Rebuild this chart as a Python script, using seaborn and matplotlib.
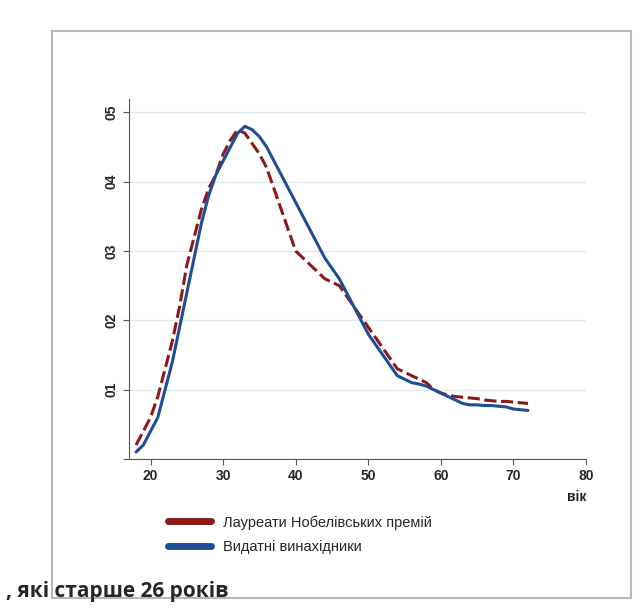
import matplotlib
matplotlib.use("Agg")
import matplotlib.pyplot as plt
import seaborn as sns
import pandas as pd
from matplotlib.patches import Rectangle

# вік (age) and density estimates
ages = [18, 19, 20, 21, 22, 23, 24, 25, 26, 27, 28, 29, 30, 31, 32, 33, 34, 35,
        36, 37, 38, 39, 40, 41, 42, 43, 44, 45, 46, 47, 48, 49, 50, 51, 52, 53,
        54, 55, 56, 57, 58, 59, 60, 61, 62, 63, 64, 65, 66, 67, 68, 69, 70, 71, 72]
nobel = [0.002, 0.004, 0.006, 0.009, 0.013, 0.017, 0.022, 0.028, 0.032, 0.036,
         0.039, 0.041, 0.044, 0.046, 0.0475, 0.047, 0.0455, 0.044, 0.042, 0.039,
         0.036, 0.033, 0.030, 0.029, 0.028, 0.027, 0.026, 0.0255, 0.025, 0.0235,
         0.022, 0.0205, 0.019, 0.0175, 0.016, 0.0145, 0.013, 0.0125, 0.012, 0.0115,
         0.011, 0.010, 0.0095, 0.0092, 0.009, 0.0089, 0.0088, 0.0087, 0.0085,
         0.0084, 0.0083, 0.0083, 0.0082, 0.0081, 0.008]
inventors = [0.001, 0.002, 0.004, 0.006, 0.010, 0.014, 0.019, 0.024, 0.029, 0.034,
             0.038, 0.041, 0.043, 0.045, 0.047, 0.048, 0.0475, 0.0465, 0.045, 0.043,
             0.041, 0.039, 0.037, 0.035, 0.033, 0.031, 0.029, 0.0275, 0.026, 0.024,
             0.022, 0.020, 0.018, 0.0165, 0.015, 0.0135, 0.012, 0.0115, 0.011, 0.0108,
             0.0105, 0.010, 0.0095, 0.009, 0.0085, 0.008, 0.0078, 0.0078, 0.0077,
             0.0077, 0.0076, 0.0075, 0.0072, 0.0071, 0.0070]
series_names = ["Лауреати Нобелівських премій", "Видатні винахідники"]
x_ticks = [20, 30, 40, 50, 60, 70, 80]
y_ticks = [0.01, 0.02, 0.03, 0.04, 0.05]
y_labels = ["01", "02", "03", "04", "05"]

df = pd.DataFrame({
    "вік": ages * 2,
    "density": nobel + inventors,
    "group": [series_names[0]] * len(ages) + [series_names[1]] * len(ages),
})

sns.set_style("white")
plt.rcParams["font.family"] = ["Liberation Sans", "DejaVu Sans"]

fig = plt.figure(figsize=(6.44, 6.16), dpi=100)

# white card with a soft grey edge, like the pasted picture on the slide
card = Rectangle((0.08, 0.03), 0.9, 0.92, transform=fig.transFigure,
                 facecolor="white", edgecolor="#b8b8b8", linewidth=1.5, zorder=-1)
fig.patches.append(card)

ax = fig.add_axes([0.2, 0.255, 0.71, 0.585])
ax.set_facecolor("none")
sns.lineplot(data=df, x="вік", y="density", hue="group", style="group",
             palette=["#8b1a1a", "#1f4e96"], dashes=[(4, 1.5), ""],
             linewidth=2.2, ax=ax, legend=False)

ax.set_xlim(17, 80)
ax.set_ylim(0, 0.052)
ax.set_xticks(x_ticks)
ax.set_yticks([0] + y_ticks)
ax.set_yticklabels([""] + y_labels, rotation=90, va="center",
                   fontsize=10, fontweight="bold")
ax.set_xticklabels([str(t) for t in x_ticks], fontsize=10, fontweight="bold")
ax.set_xlabel("")
ax.set_ylabel("")
ax.grid(axis="y", color="#e0ebeb", linewidth=1)
for s in ["top", "right"]:
    ax.spines[s].set_visible(False)
for s in ["left", "bottom"]:
    ax.spines[s].set_color("#555555")
ax.tick_params(axis="both", length=4, color="#555555", direction="out",
               left=True, bottom=True)
ax.text(1.0, -0.085, "вік", transform=ax.transAxes, ha="right", va="top",
        fontsize=10, fontweight="bold")

handles = [plt.Line2D([], [], color="#8b1a1a", lw=5),
           plt.Line2D([], [], color="#1f4e96", lw=5)]
fig.legend(handles, series_names, loc="upper left", bbox_to_anchor=(0.24, 0.185),
           frameon=False, fontsize=10.5, handlelength=3, labelspacing=0.7)

fig.text(0.01, 0.04, ", які старше 26 років", fontsize=15, fontweight="bold",
         family=["Open Sans", "DejaVu Sans"], ha="left", va="center")

fig.savefig("out.png", dpi=100, facecolor="white")
